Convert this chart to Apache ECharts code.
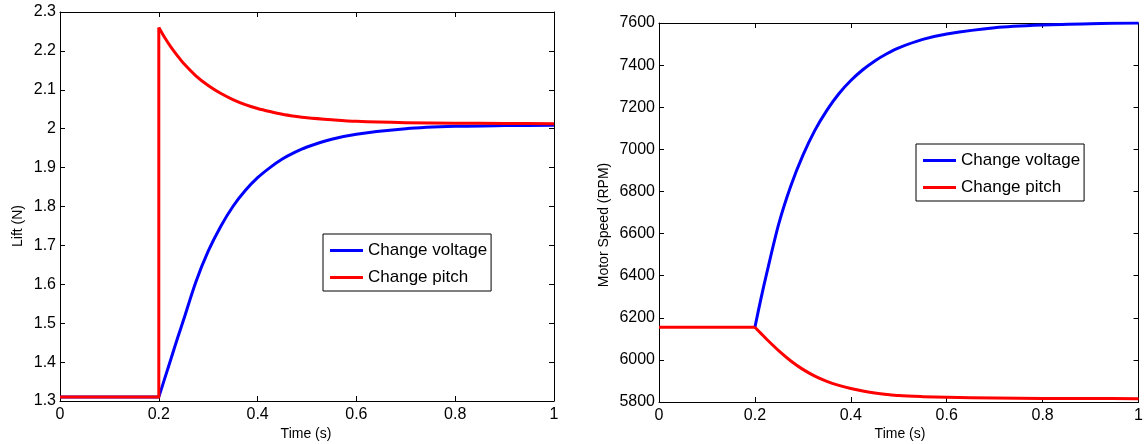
<!DOCTYPE html>
<html>
<head>
<meta charset="utf-8">
<script src="https://cdn.jsdelivr.net/npm/echarts@6/dist/echarts.min.js"></script>
<style>html,body{margin:0;padding:0;background:#fff}#c{width:1146px;height:444px}</style>
</head>
<body>
<div id="c"></div>
<script>
// ---- data ----
const seriesNames = ['Change voltage', 'Change pitch'];
const stepTime = 0.2;

// Left: Lift (N)
const liftBefore  = 1.31;          // level for t in [0, 0.2]
const liftPeak    = 2.26;          // pitch jump at t = 0.2
const liftTime    = [0.2, 0.2125, 0.225, 0.2375, 0.25, 0.275, 0.3, 0.325, 0.35, 0.375, 0.4, 0.425, 0.45, 0.475, 0.5, 0.55, 0.6, 0.7, 0.8, 0.9, 1.0];
const liftVoltage = [1.31, 1.36, 1.41, 1.46, 1.508, 1.606, 1.685, 1.748, 1.80, 1.841, 1.874, 1.900, 1.922, 1.939, 1.953, 1.973, 1.986, 2.000, 2.006, 2.008, 2.009];
const liftPitch   = [2.26, 2.233, 2.209, 2.188, 2.168, 2.136, 2.111, 2.091, 2.075, 2.062, 2.052, 2.044, 2.037, 2.032, 2.028, 2.023, 2.019, 2.0155, 2.014, 2.0135, 2.013];

// Right: Motor speed (RPM)
const rpmBefore   = 6155;
const rpmTime     = [0.2, 0.2125, 0.225, 0.25, 0.275, 0.3, 0.325, 0.35, 0.375, 0.4, 0.425, 0.45, 0.475, 0.5, 0.55, 0.6, 0.7, 0.8, 0.9, 1.0];
const rpmVoltage  = [6155, 6290, 6415, 6648, 6827, 6971, 7090, 7185, 7264, 7327, 7378, 7420, 7454, 7482, 7522, 7548, 7578, 7591, 7597, 7600];
const rpmPitch    = [6155, 6126, 6097, 6043, 5995, 5955, 5923, 5898, 5879, 5864, 5852, 5843, 5836, 5830.5, 5825.5, 5822, 5818.5, 5817, 5816.3, 5816];

const FONT = '"Liberation Sans", Arial, sans-serif';
const pairs = (xs, ys) => xs.map((x, i) => [x, ys[i]]);

const grids = [
  {left: 60, top: 12, width: 494, height: 389},
  {left: 659, top: 23, width: 482, height: 379}
];

function xAxes(gi) {
  const base = {
    type: 'value', gridIndex: gi, min: 0, max: 1, interval: 0.2,
    axisLine: {show: true, onZero: false, lineStyle: {color: '#000', width: 1}},
    axisTick: {show: true, inside: true, length: 5, lineStyle: {color: '#000'}},
    splitLine: {show: false}
  };
  return [
    Object.assign({}, base, {position: 'bottom',
      axisLabel: {show: true, color: '#000', fontSize: 16, fontFamily: FONT, margin: 6,
        formatter: v => String(Math.round(v * 10) / 10)}}),
    Object.assign({}, base, {position: 'top', axisLabel: {show: false}})
  ];
}
function yAxes(gi, min, max, interval, dec) {
  const base = {
    type: 'value', gridIndex: gi, min: min, max: max, interval: interval,
    axisLine: {show: true, onZero: false, lineStyle: {color: '#000', width: 1}},
    axisTick: {show: true, inside: true, length: 5, lineStyle: {color: '#000'}},
    splitLine: {show: false}
  };
  return [
    Object.assign({}, base, {position: 'left',
      axisLabel: {show: true, color: '#000', fontSize: 16, fontFamily: FONT, margin: 4,
        formatter: v => dec ? String(Math.round(v * 10) / 10) : String(Math.round(v))}}),
    Object.assign({}, base, {position: 'right', axisLabel: {show: false}})
  ];
}

const lineSeries = (name, color, xi, yi, data, smooth) => ({
  name: name, type: 'line', xAxisIndex: xi, yAxisIndex: yi, data: data,
  symbol: 'none', showSymbol: false, animation: false,
  smooth: smooth ? 0.3 : false,
  lineStyle: {color: color, width: 3, join: 'round'}, itemStyle: {color: color}
});

const legendBase = {
  orient: 'vertical', data: seriesNames, icon: 'rect', itemWidth: 33, itemHeight: 3,
  itemGap: 10, borderColor: '#000', borderWidth: 1, backgroundColor: '#fff',
  padding: [8, 4, 5, 7], textStyle: {fontSize: 17, fontFamily: FONT, color: '#000'},
  selectedMode: false
};

const BLUE = '#0000ff', RED = '#ff0000';
const option = {
  animation: false,
  backgroundColor: '#fff',
  grid: grids,
  xAxis: [...xAxes(0), ...xAxes(1)],
  yAxis: [...yAxes(0, 1.3, 2.3, 0.1, true), ...yAxes(1, 5800, 7600, 200, false)],
  legend: [
    Object.assign({}, legendBase, {left: 323, top: 234}),
    Object.assign({}, legendBase, {left: 916, top: 144})
  ],
  series: [
    // left chart
    lineSeries(seriesNames[0], BLUE, 0, 0, [[0, liftBefore], [stepTime, liftBefore]], false),
    lineSeries(seriesNames[0], BLUE, 0, 0, pairs(liftTime, liftVoltage), true),
    lineSeries(seriesNames[1], RED, 0, 0, [[0, liftBefore], [stepTime, liftBefore], [stepTime, liftPeak]], false),
    lineSeries(seriesNames[1], RED, 0, 0, pairs(liftTime, liftPitch), true),
    // right chart
    lineSeries(seriesNames[0], BLUE, 2, 2, pairs(rpmTime, rpmVoltage), true),
    lineSeries(seriesNames[1], RED, 2, 2, [[0, rpmBefore], [stepTime, rpmBefore]], false),
    lineSeries(seriesNames[1], RED, 2, 2, pairs(rpmTime, rpmPitch), true)
  ],
  graphic: [
    {type: 'text', x: 306, y: 434, style: {text: 'Time (s)', font: '14px ' + FONT, fill: '#000', align: 'center', verticalAlign: 'middle'}},
    {type: 'text', x: 900, y: 434, style: {text: 'Time (s)', font: '14px ' + FONT, fill: '#000', align: 'center', verticalAlign: 'middle'}},
    {type: 'text', x: 18, y: 226, rotation: Math.PI / 2, style: {text: 'Lift (N)', font: '14px ' + FONT, fill: '#000', align: 'center', verticalAlign: 'middle'}},
    {type: 'text', x: 604, y: 225, rotation: Math.PI / 2, style: {text: 'Motor Speed (RPM)', font: '14px ' + FONT, fill: '#000', align: 'center', verticalAlign: 'middle'}}
  ]
};

const chart = echarts.init(document.getElementById('c'), null, {renderer: 'canvas'});
chart.setOption(option);
</script>
</body>
</html>
